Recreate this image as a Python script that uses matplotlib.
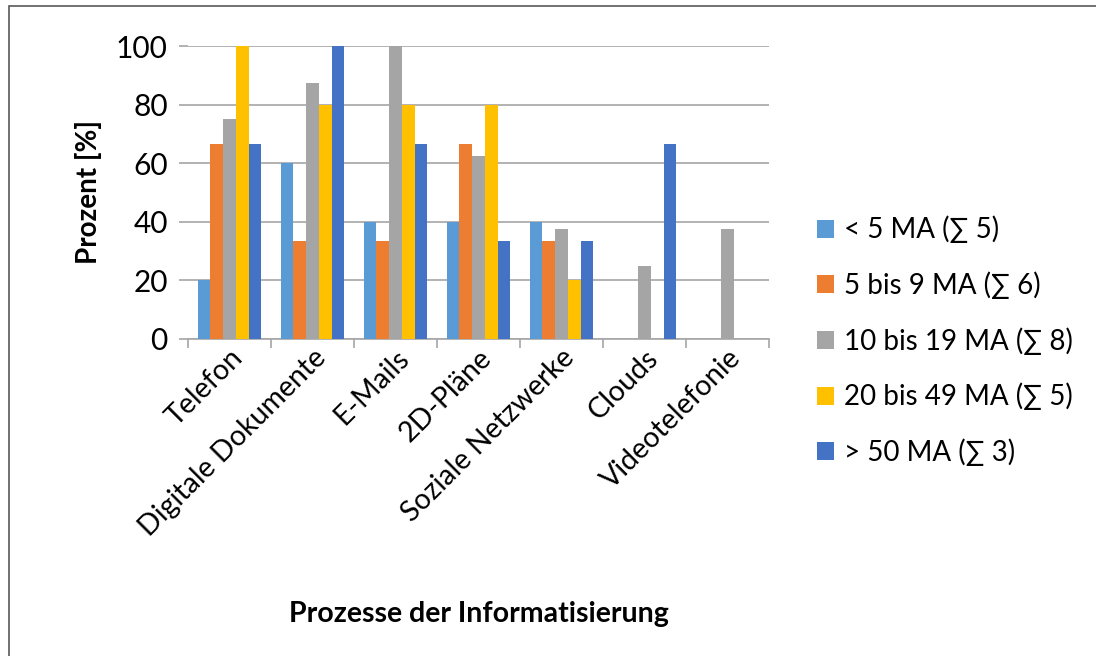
from matplotlib import pyplot as plt
from matplotlib.patches import Rectangle
import numpy as np

categories = ["Telefon", "Digitale Dokumente", "E-Mails", "2D-Pläne",
              "Soziale Netzwerke", "Clouds", "Videotelefonie"]
series_names = ["< 5 MA (∑ 5)", "5 bis 9 MA (∑ 6)", "10 bis 19 MA (∑ 8)",
                "20 bis 49 MA (∑ 5)", "> 50 MA (∑ 3)"]
lt5 = [20, 60, 40, 40, 40, 0, 0]
ma5_9 = [66.7, 33.3, 33.3, 66.7, 33.3, 0, 0]
ma10_19 = [75, 87.5, 100, 62.5, 37.5, 25, 37.5]
ma20_49 = [100, 80, 80, 80, 20, 0, 0]
gt50 = [66.7, 100, 66.7, 33.3, 33.3, 66.7, 0]
colors = ["#5B9BD5", "#ED7D31", "#A5A5A5", "#FFC000", "#4472C4"]

plt.rcParams['font.family'] = ['Lato', 'DejaVu Sans']

fig = plt.figure(figsize=(10.96, 6.56), dpi=100)
ax = fig.add_axes([188/1096, 1-339/656, (769-188)/1096, (339-46)/656])

# thin frame around the chart, like the Excel chart area
fig.patches.append(Rectangle((9/1096, -0.05), 1.2, 1-6/656+0.05, transform=fig.transFigure,
                             fill=False, edgecolor='#595959', linewidth=1.2))

x = np.arange(len(categories))
w = 0.154
for i, (vals, name) in enumerate(zip([lt5, ma5_9, ma10_19, ma20_49, gt50], series_names)):
    ax.bar(x + (i - 2) * w, vals, width=w, color=colors[i], label=name, zorder=3)

ax.set_xlim(-0.5, len(categories) - 0.5)
ax.set_ylim(0, 100)
ax.set_yticks(range(0, 101, 20))
ax.grid(axis='y', color='#A6A6A6', linewidth=1.2, zorder=0)
ax.spines[["left", "top", "right"]].set_visible(False)
ax.spines["bottom"].set_color('#A6A6A6')
ax.spines["bottom"].set_linewidth(1.2)
ax.tick_params(axis='y', length=6.5, width=1.2, color='#A6A6A6', labelsize=21.5, pad=8)

ax.set_xticks(np.arange(len(categories) + 1) - 0.5)
ax.set_xticklabels([])
ax.tick_params(axis='x', which='major', length=6.5, width=1.2, color='#A6A6A6')
ax.set_xticks(x, minor=True)
ax.set_xticklabels(categories, minor=True, rotation=45, ha='right', va='top',
                   rotation_mode='anchor', fontsize=20.5)
ax.tick_params(axis='x', which='minor', length=0, pad=4)

ax.set_ylabel("Prozent [%]", fontsize=20, fontweight='bold', labelpad=10)
fig.text(479/1096, 1-614/656, "Prozesse der Informatisierung", fontsize=20.5,
         fontweight='bold', ha='center', va='center')

ax.legend(loc='center left', bbox_to_anchor=(817/1096, 1-341/656), bbox_transform=fig.transFigure,
          frameon=False, fontsize=20, handlelength=0.62, handleheight=0.62,
          handletextpad=0.35, labelspacing=1.01, borderpad=0, borderaxespad=0)

plt.savefig("out.png", dpi=100)
